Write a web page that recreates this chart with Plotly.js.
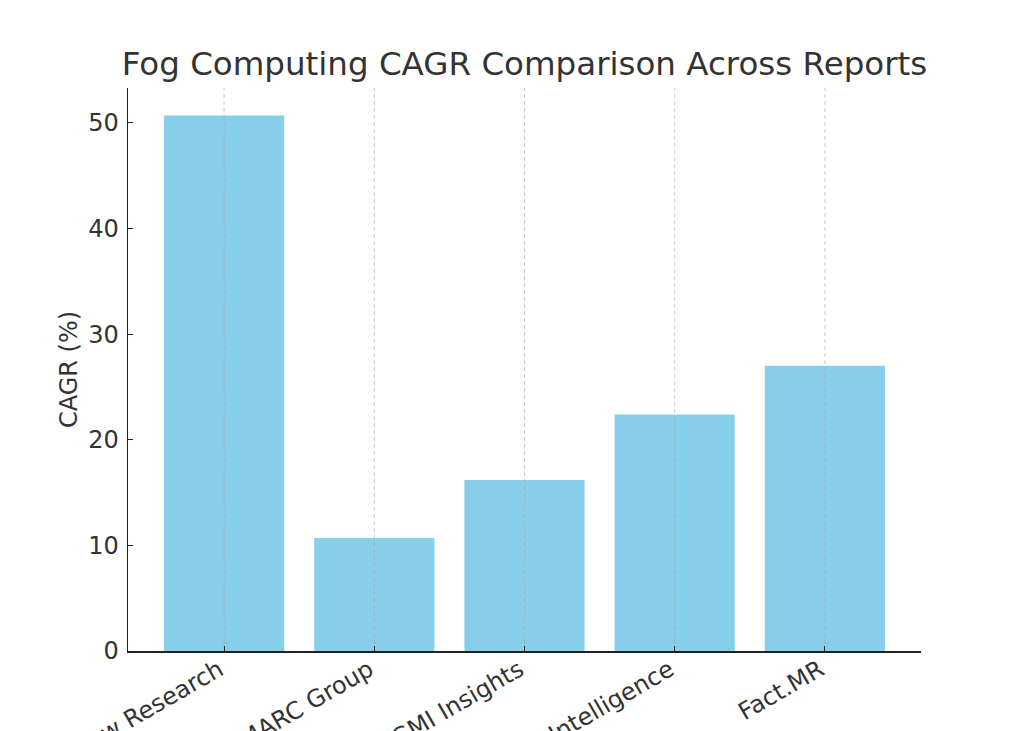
<!DOCTYPE html>
<html>
<head>
<meta charset="utf-8">
<script src="https://cdn.plot.ly/plotly-3.0.1.min.js"></script>
<style>html,body{margin:0;padding:0;background:#fff;}#chart{width:1024px;height:731px;}</style>
</head>
<body>
<div id="chart"></div>
<script>
const reports = ["Grand View Research", "IMARC Group", "GMI Insights", "Mordor Intelligence", "Fact.MR"];
const cagr = [50.7, 10.7, 16.2, 22.4, 27.0];
const yTicks = [0, 10, 20, 30, 40, 50];
const yMax = 53.3;

const bars = {
  type: 'bar',
  x: reports,
  y: cagr,
  width: 0.8,
  marker: {color: '#87CEEB', line: {width: 0}},
  hoverinfo: 'x+y'
};

// vertical dashed gridlines drawn above the bars (as in the reference)
const grid = {
  type: 'scatter', mode: 'lines',
  x: reports.flatMap(r => [r, r, null]),
  y: reports.flatMap(() => [0, yMax, null]),
  line: {color: 'rgba(160,160,160,0.55)', width: 1, dash: '4px,3px'},
  hoverinfo: 'skip', showlegend: false
};

const layout = {
  width: 1024, height: 731,
  margin: {l: 128, r: 103, t: 88, b: 80, pad: 0},
  paper_bgcolor: '#fff', plot_bgcolor: '#fff',
  font: {family: 'DejaVu Sans, sans-serif', color: '#333', size: 24},
  title: {text: 'Fog Computing CAGR Comparison Across Reports', font: {size: 32.5, color: '#333'},
          x: 0.5, xanchor: 'center', y: 0.913, yanchor: 'middle', xref: 'paper'},
  showlegend: false,
  xaxis: {
    range: [-0.64, 4.64], tickangle: -30, automargin: false,
    showgrid: false,
    showline: true, linecolor: '#222', linewidth: 1.5,
    ticks: 'inside', ticklen: 5, tickcolor: '#222', tickwidth: 1.2,
    ticklabelstandoff: -6, ticklabelshift: -5,
    tickfont: {size: 24, color: '#333'}, zeroline: false
  },
  yaxis: {
    range: [0, yMax], tickvals: yTicks, automargin: false,
    title: {text: 'CAGR (%)', font: {size: 24, color: '#333'}, standoff: 4},
    showgrid: false, zeroline: false,
    showline: true, linecolor: '#222', linewidth: 1.5,
    ticks: 'inside', ticklen: 5, tickcolor: '#222', tickwidth: 1.2,
    ticklabelstandoff: 3,
    tickfont: {size: 24, color: '#333'}
  }
};

Plotly.newPlot('chart', [bars, grid], layout, {displayModeBar: false, staticPlot: true});
</script>
</body>
</html>
